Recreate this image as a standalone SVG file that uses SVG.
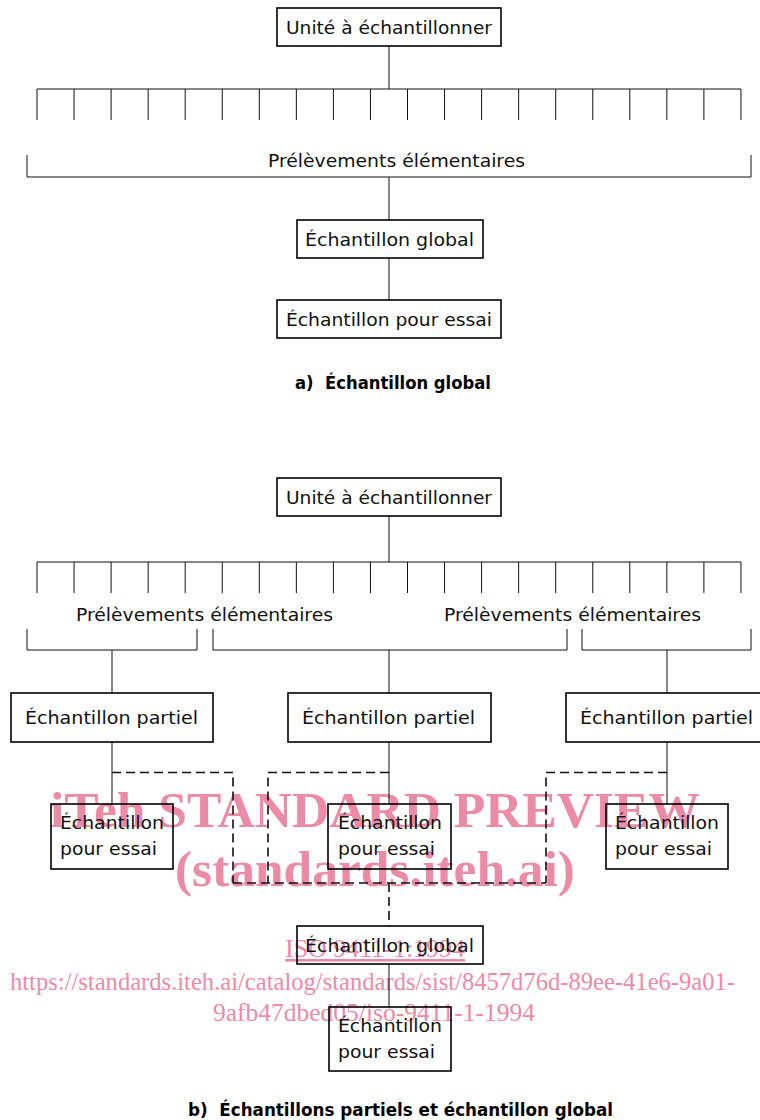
<svg xmlns="http://www.w3.org/2000/svg" xmlns:xlink="http://www.w3.org/1999/xlink" width="760" height="1120" viewBox="0 0 760 1120">
<defs>
<style>
.box{fill:none;stroke:#000;stroke-width:1.6}
.ln{fill:none;stroke:#111;stroke-width:1}
.dash{fill:none;stroke:#111;stroke-width:1.6;stroke-dasharray:9 5}
.t{font-family:"Liberation Sans Narrow","DejaVu Sans Condensed","Liberation Sans",sans-serif;font-size:17px;fill:#111}
.cap{font-family:"Liberation Sans Narrow","DejaVu Sans Condensed","Liberation Sans",sans-serif;font-size:18px;font-weight:bold;fill:#000}
.wm{font-family:"Liberation Serif","Times New Roman",serif;fill:#ec8ba6}
.wmb{font-size:51px;font-weight:bold}
.wmr{font-size:26px}
</style>
<path id="ticks" d="M37,0H741M37,0V31M74.05,0V31M111.1,0V31M148.15,0V31M185.2,0V31M222.25,0V31M259.3,0V31M296.35,0V31M333.4,0V31M370.45,0V31M407.5,0V31M444.55,0V31M481.6,0V31M518.65,0V31M555.7,0V31M592.75,0V31M629.8,0V31M666.85,0V31M703.9,0V31M740.95,0V31"/>
</defs>
<rect width="760" height="1120" fill="#fff"/>

<g id="watermark" class="wm">
<text class="wmb" x="50" y="827" textLength="650" lengthAdjust="spacingAndGlyphs">iTeh STANDARD PREVIEW</text>
<text class="wmb" x="175" y="886" textLength="400" lengthAdjust="spacingAndGlyphs">(standards.iteh.ai)</text>
<text class="wmr" x="285" y="957" textLength="180" lengthAdjust="spacingAndGlyphs" text-decoration="underline">ISO 9411-1:1994</text>
<text class="wmr" x="10" y="990" textLength="725" lengthAdjust="spacingAndGlyphs">https://standards.iteh.ai/catalog/standards/sist/8457d76d-89ee-41e6-9a01-</text>
<text class="wmr" x="213" y="1021" textLength="322" lengthAdjust="spacingAndGlyphs">9afb47dbed05/iso-9411-1-1994</text>
</g>

<g id="connectors">
<!-- part a -->
<path class="ln" d="M389,46V89"/>
<use xlink:href="#ticks" href="#ticks" class="ln" y="89"/>
<path class="ln" d="M27,155V177H751V155"/>
<path class="ln" d="M389,177V220"/>
<path class="ln" d="M389,258V300"/>
<!-- part b -->
<path class="ln" d="M389,516V562"/>
<use xlink:href="#ticks" href="#ticks" class="ln" y="562"/>
<path class="ln" d="M27,629V650H197V629"/>
<path class="ln" d="M213,629V650H567V629"/>
<path class="ln" d="M582,629V650H751V629"/>
<path class="ln" d="M112,650V693M389,650V693M667,650V693"/>
<path class="ln" d="M112,742V804M389,742V804M667,742V804"/>
<path class="dash" d="M112,772.5H233V883"/>
<path class="dash" d="M389,772.5H268V883"/>
<path class="dash" d="M667,772.5H546V883"/>
<path class="dash" d="M233,883H546"/>
<path class="dash" d="M389,883V926"/>
<path class="ln" d="M389,964V1007"/>
</g>

<g id="a-unite">
<rect class="box" x="277" y="8" width="224" height="38"/>
<text class="t" x="286" y="33.5" textLength="206" lengthAdjust="spacingAndGlyphs">Unité à échantillonner</text>
</g>
<g id="a-prelevements">
<text class="t" x="268" y="167" textLength="257" lengthAdjust="spacingAndGlyphs">Prélèvements élémentaires</text>
</g>
<g id="a-global">
<rect class="box" x="297" y="220" width="186" height="38"/>
<text class="t" x="305" y="245.5" textLength="169" lengthAdjust="spacingAndGlyphs">Échantillon global</text>
</g>
<g id="a-essai">
<rect class="box" x="277" y="300" width="224" height="38"/>
<text class="t" x="286" y="325.5" textLength="206" lengthAdjust="spacingAndGlyphs">Échantillon pour essai</text>
</g>
<g id="caption-a">
<text class="cap" x="295" y="389" textLength="196" lengthAdjust="spacingAndGlyphs">a)&#160; Échantillon global</text>
</g>

<g id="b-unite">
<rect class="box" x="277" y="478" width="224" height="38"/>
<text class="t" x="286" y="503.5" textLength="206" lengthAdjust="spacingAndGlyphs">Unité à échantillonner</text>
</g>
<g id="b-prelevements-1">
<text class="t" x="76" y="620.5" textLength="257" lengthAdjust="spacingAndGlyphs">Prélèvements élémentaires</text>
</g>
<g id="b-prelevements-2">
<text class="t" x="444" y="620.5" textLength="257" lengthAdjust="spacingAndGlyphs">Prélèvements élémentaires</text>
</g>
<g id="b-partiel-1">
<rect class="box" x="11" y="693" width="202" height="49"/>
<text class="t" x="25" y="723.5" textLength="173" lengthAdjust="spacingAndGlyphs">Échantillon partiel</text>
</g>
<g id="b-partiel-2">
<rect class="box" x="288" y="693" width="203" height="49"/>
<text class="t" x="302" y="723.5" textLength="173" lengthAdjust="spacingAndGlyphs">Échantillon partiel</text>
</g>
<g id="b-partiel-3">
<rect class="box" x="566" y="693" width="203" height="49"/>
<text class="t" x="580" y="723.5" textLength="173" lengthAdjust="spacingAndGlyphs">Échantillon partiel</text>
</g>
<g id="b-essai-1">
<rect class="box" x="51" y="804" width="122" height="65"/>
<text class="t" x="60" y="828.5" textLength="104" lengthAdjust="spacingAndGlyphs">Échantillon</text>
<text class="t" x="60" y="854.5" textLength="97" lengthAdjust="spacingAndGlyphs">pour essai</text>
</g>
<g id="b-essai-2">
<rect class="box" x="328" y="804" width="123" height="65"/>
<text class="t" x="338" y="828.5" textLength="104" lengthAdjust="spacingAndGlyphs">Échantillon</text>
<text class="t" x="338" y="854.5" textLength="97" lengthAdjust="spacingAndGlyphs">pour essai</text>
</g>
<g id="b-essai-3">
<rect class="box" x="606" y="804" width="122" height="65"/>
<text class="t" x="615" y="828.5" textLength="104" lengthAdjust="spacingAndGlyphs">Échantillon</text>
<text class="t" x="615" y="854.5" textLength="97" lengthAdjust="spacingAndGlyphs">pour essai</text>
</g>
<g id="b-global">
<rect class="box" x="297" y="926" width="186" height="38"/>
<text class="t" x="305" y="951.5" textLength="169" lengthAdjust="spacingAndGlyphs">Échantillon global</text>
</g>
<g id="b-essai-final">
<rect class="box" x="329" y="1007" width="122" height="64"/>
<text class="t" x="338" y="1031.5" textLength="104" lengthAdjust="spacingAndGlyphs">Échantillon</text>
<text class="t" x="338" y="1057.5" textLength="97" lengthAdjust="spacingAndGlyphs">pour essai</text>
</g>
<g id="caption-b">
<text class="cap" x="188" y="1116" textLength="425" lengthAdjust="spacingAndGlyphs">b)&#160; Échantillons partiels et échantillon global</text>
</g>
</svg>
